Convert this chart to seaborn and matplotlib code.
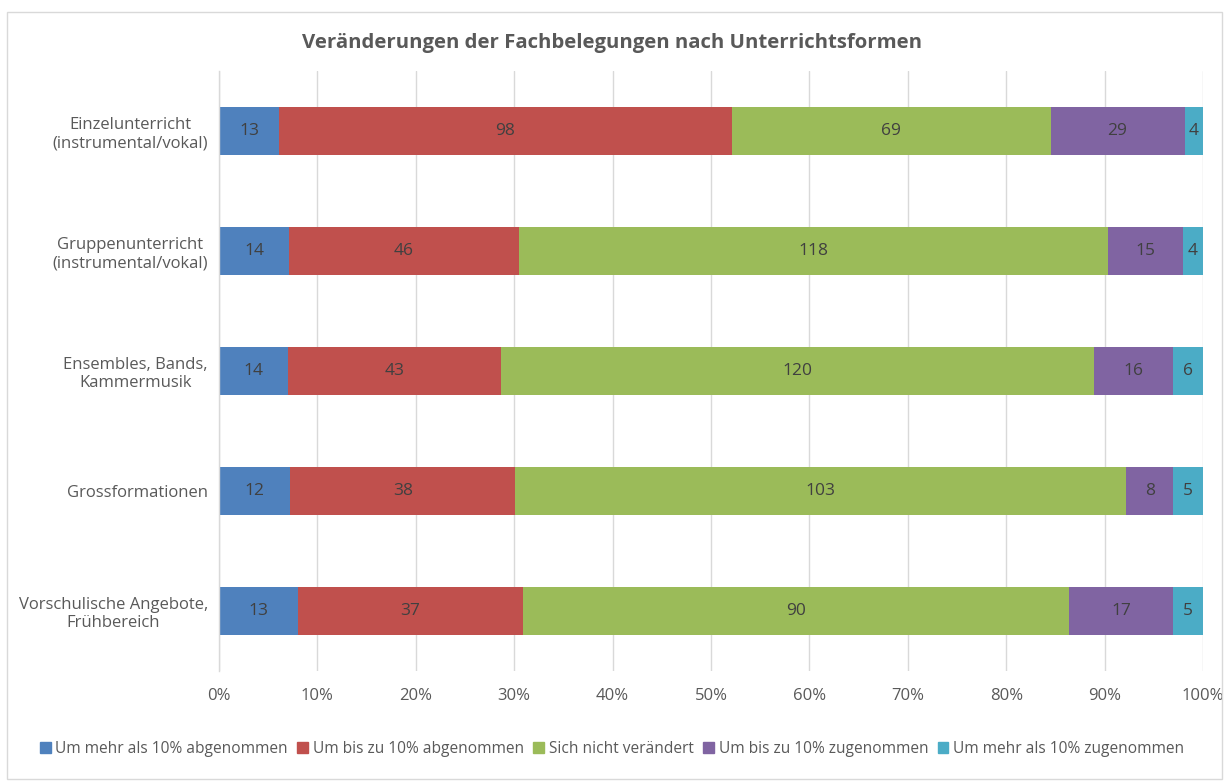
import matplotlib
matplotlib.use("Agg")
import matplotlib.pyplot as plt
import seaborn as sns
import pandas as pd
import numpy as np
from matplotlib.patches import Rectangle

categories = [
    "Einzelunterricht\n(instrumental/vokal)",
    "Gruppenunterricht\n(instrumental/vokal)",
    "Ensembles, Bands,\nKammermusik",
    "Grossformationen",
    "Vorschulische Angebote,\nFrühbereich",
]
series_names = [
    "Um mehr als 10% abgenommen",
    "Um bis zu 10% abgenommen",
    "Sich nicht verändert",
    "Um bis zu 10% zugenommen",
    "Um mehr als 10% zugenommen",
]
mehr_ab = [13, 14, 14, 12, 13]
bis_ab = [98, 46, 43, 38, 37]
nicht = [69, 118, 120, 103, 90]
bis_zu = [29, 15, 16, 8, 17]
mehr_zu = [4, 4, 6, 5, 5]
colors = ["#4F81BD", "#C0504D", "#9BBB59", "#8064A2", "#4BACC6"]

series = [mehr_ab, bis_ab, nicht, bis_zu, mehr_zu]
counts = np.array(series, dtype=float)
totals = counts.sum(axis=0)
pct = counts / totals * 100

sns.set_theme(style="white")
plt.rcParams["font.family"] = ["Open Sans", "DejaVu Sans"]

fig = plt.figure(figsize=(12.24, 7.81), dpi=100)
ax = fig.add_axes([219 / 1224, 1 - 671 / 781, (1203 - 219) / 1224, 600 / 781])

left = np.zeros(len(categories))
for i, name in enumerate(series_names):
    df = pd.DataFrame({"cat": categories, "pct": pct[i]})
    sns.barplot(data=df, x="pct", y="cat", orient="h", color=colors[i],
                width=0.4, left=left, ax=ax, saturation=1, label=name,
                edgecolor="none", linewidth=0)
    cont = ax.containers[-1]
    ax.bar_label(cont, labels=[str(int(v)) for v in series[i]], label_type="center",
                 color="#404040", fontsize=12.5)
    left = left + pct[i]

ax.set_xlim(0, 100)
ax.set_xticks(np.arange(0, 101, 10))
ax.set_xticklabels([f"{v}%" for v in range(0, 101, 10)], color="#595959", fontsize=12)
ax.set_ylabel("")
ax.set_xlabel("")
ax.tick_params(axis="x", length=0, pad=12)
ax.tick_params(axis="y", length=0, pad=8)
for lbl in ax.get_yticklabels():
    lbl.set_multialignment("center")
    lbl.set_color("#595959")
    lbl.set_fontsize(12)
ax.grid(axis="x", color="#D9D9D9", linewidth=1)
ax.set_axisbelow(True)
for s in ["top", "right", "bottom"]:
    ax.spines[s].set_visible(False)
ax.spines["left"].set_color("#D9D9D9")
ax.spines["left"].set_linewidth(1)
if ax.get_legend() is not None:
    ax.get_legend().remove()

fig.text(0.5, 1 - 43 / 781, "Veränderungen der Fachbelegungen nach Unterrichtsformen",
         ha="center", va="center", fontsize=14.7, fontweight="bold", color="#595959")

handles = [Rectangle((0, 0), 1, 1, color=c) for c in colors]
fig.legend(handles, series_names, loc="center", bbox_to_anchor=(0.5, 1 - 749 / 781),
           ncol=5, frameon=False, handlelength=0.7, handleheight=0.7,
           handletextpad=0.3, columnspacing=0.6, fontsize=11.2, labelcolor="#595959")

fig.patches.append(Rectangle((7 / 1224, 2 / 781), 1215 / 1224, 767 / 781,
                             transform=fig.transFigure, fill=False,
                             edgecolor="#D9D9D9", linewidth=1))

fig.savefig("out.png", dpi=100)
